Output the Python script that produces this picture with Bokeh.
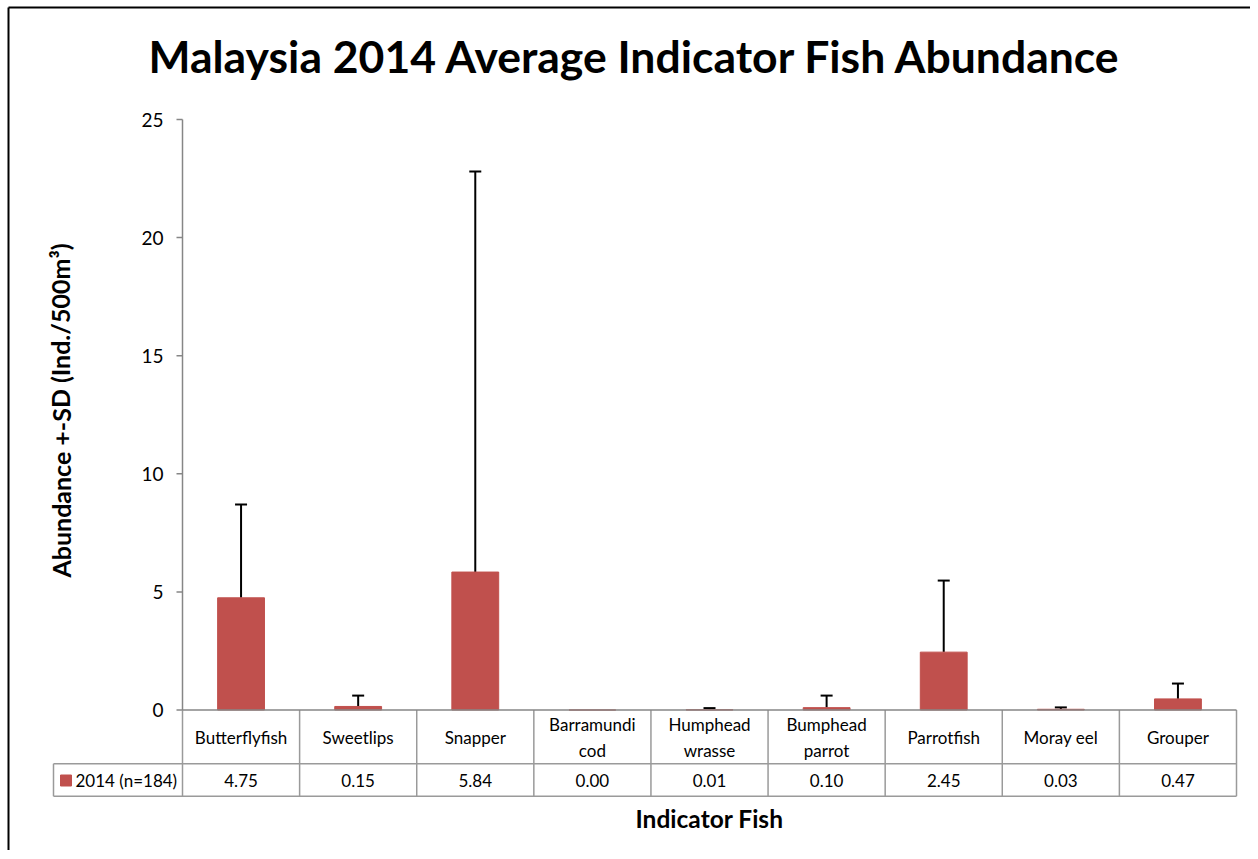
from bokeh.plotting import figure
from bokeh.models import Range1d, Whisker, ColumnDataSource, TeeHead
from bokeh.core.properties import value
from bokeh.embed import file_html
from bokeh.resources import INLINE

# ---------------- data ----------------
title_text = "Malaysia 2014 Average Indicator Fish Abundance"
x_title = "Indicator Fish"
y_title = "Abundance +-SD (Ind./500m\u00b3)"
series_name = "2014 (n=184)"
categories = ["Butterflyfish", "Sweetlips", "Snapper", "Barramundi\ncod",
              "Humphead\nwrasse", "Bumphead\nparrot", "Parrotfish", "Moray eel", "Grouper"]
means = [4.75, 0.15, 5.84, 0.00, 0.01, 0.10, 2.45, 0.03, 0.47]
sds = [3.95, 0.46, 16.96, 0.00, 0.07, 0.51, 3.03, 0.08, 0.65]
y_ticks = [0, 5, 10, 15, 20, 25]

# ---------------- layout (page pixels) ----------------
W, H = 1250, 850
OFF = 0
PLOT_L, PLOT_R = 182, 1236
ZERO_Y, TOP_Y = 709.5, 119
PPX = (PLOT_R - PLOT_L) / len(categories)
PPY = (ZERO_Y - TOP_Y) / y_ticks[-1]


def dx(px):
    return -0.5 + (px - PLOT_L) / PPX


def dy(py):
    return (ZERO_Y - py) / PPY


FONT = "Lato"
BAR = "#C0504D"
AXIS = "#868686"
GRID = "#9A9A9A"

p = figure(width=W, height=H, output_backend="svg", toolbar_location=None,
           x_range=Range1d(dx(OFF), dx(OFF + W)), y_range=Range1d(dy(OFF + H), dy(OFF)),
           x_axis_type=None, y_axis_type=None, min_border=0,
           background_fill_color="white", border_fill_color="white")
p.grid.visible = False
p.outline_line_color = None

n = len(categories)
xs = list(range(n))

# bars
src = ColumnDataSource(dict(x=xs, top=means))
p.vbar(x="x", top="top", width=0.4, source=src, fill_color=BAR, line_color=BAR)

# error bars (upper only)
ex = [x for x, s in zip(xs, sds) if s > 0]
elo = [m for m, s in zip(means, sds) if s > 0]
ehi = [m + s for m, s in zip(means, sds) if s > 0]
esrc = ColumnDataSource(dict(x=ex, lower=elo, upper=ehi))
p.add_layout(Whisker(source=esrc, base="x", lower="lower", upper="upper", dimension="height",
                     line_color="black", line_width=2,
                     upper_head=TeeHead(size=12, line_color="black", line_width=2),
                     lower_head=None))

# y axis line and ticks
p.segment(x0=[-0.5], y0=[0], x1=[-0.5], y1=[y_ticks[-1]], line_color=AXIS, line_width=1.5)
p.segment(x0=[dx(176)] * len(y_ticks), y0=y_ticks, x1=[-0.5] * len(y_ticks), y1=y_ticks,
          line_color=AXIS, line_width=1.5)
p.text(x=[dx(163)] * len(y_ticks), y=y_ticks, text=[str(t) for t in y_ticks],
       text_font=value(FONT), text_font_size="19px", text_align="right",
       text_baseline="middle", text_color="#000000")

# data table
row1 = dy(763.3)
row2 = dy(795.7)
leg_l = dx(53)
vx = [k - 0.5 for k in range(n + 1)]
p.segment(x0=vx, y0=[0] * len(vx), x1=vx, y1=[row2] * len(vx), line_color=GRID, line_width=1.5)
p.segment(x0=[leg_l, leg_l], y0=[row1, row2], x1=[n - 0.5, n - 0.5], y1=[row1, row2],
          line_color=GRID, line_width=1.5)
p.segment(x0=[leg_l], y0=[row1], x1=[leg_l], y1=[row2], line_color=GRID, line_width=1.5)
p.segment(x0=[-0.5], y0=[0], x1=[n - 0.5], y1=[0], line_color=AXIS, line_width=1.5)

# table text
p.text(x=xs, y=[dy(737)] * n, text=categories, text_font=value(FONT), text_font_size="17px",
       text_align="center", text_baseline="middle", text_line_height=1.25, text_color="#000000")
p.text(x=xs, y=[dy(780)] * n, text=[f"{m:.2f}" for m in means], text_font=value(FONT),
       text_font_size="17px", text_align="center", text_baseline="middle", text_color="#000000")

# legend key
p.scatter(x=[dx(65.5)], y=[dy(780)], marker="square", size=11, fill_color=BAR, line_color=BAR)
p.text(x=[dx(75)], y=[dy(780)], text=[series_name], text_font=value(FONT), text_font_size="17px",
       text_align="left", text_baseline="middle", text_color="#000000")

# titles
p.text(x=[dx(635)], y=[dy(55)], text=[title_text], text_font=value(FONT), text_font_size="44.5px",
       text_font_style="bold", text_align="center", text_baseline="middle", text_color="#000000")
p.text(x=[(n - 1) / 2], y=[dy(818)], text=[x_title], text_font=value(FONT), text_font_size="24.5px",
       text_font_style="bold", text_align="center", text_baseline="middle", text_color="#000000")
p.text(x=[dx(60)], y=[dy(410)], text=[y_title], text_font=value(FONT), text_font_size="25px",
       text_font_style="bold", text_align="center", text_baseline="middle", angle=1.5708,
       text_color="#000000")

# chart frame (left/top edges visible in the window)
p.segment(x0=[dx(8), dx(8)], y0=[dy(7), dy(7)], x1=[dx(8), dx(W)], y1=[dy(H), dy(7)],
          line_color="black", line_width=2)

open("out.html", "w").write(file_html(p, INLINE))
